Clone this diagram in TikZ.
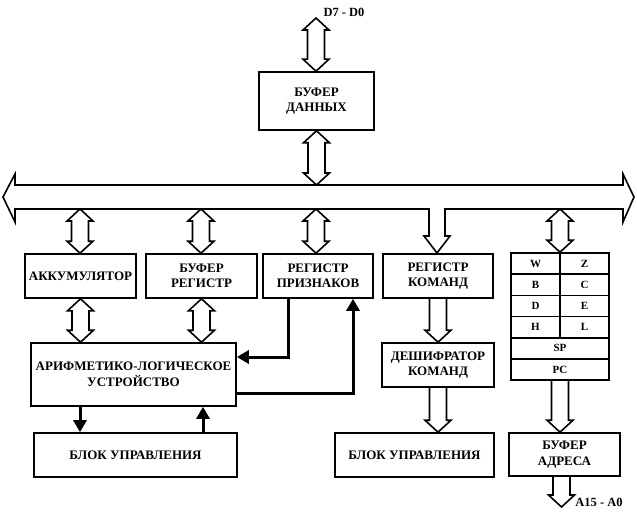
\documentclass[tikz,border=0pt]{standalone}
\usepackage{fontspec}
\setmainfont{Liberation Serif}
\usetikzlibrary{arrows.meta, positioning, calc}
\tikzset{
  block/.style={draw=black, line width=1.6pt, align=center, inner sep=2pt,
                font=\fontsize{13}{15.5}\selectfont\bfseries},
  cell/.style={draw=black, line width=1.6pt, minimum height=21.17pt,
               inner sep=0pt, font=\fontsize{11}{12}\selectfont\bfseries},
  fat/.style={draw=black, line width=1.6pt, line join=miter},
  ctrl/.style={line width=3pt, -{Triangle[length=12pt, width=13pt]}},
  buslabel/.style={font=\fontsize{12.5}{14}\selectfont\bfseries},
}
% wide hollow arrows (vertical), x taken from the first point
\newcommand\fatboth[2]{%
  \draw[fat] let \p1=#1, \p2=#2 in
    (\x1,\y1) -- (\x1+13pt,\y1-12pt) -- (\x1+8.5pt,\y1-12pt)
    -- (\x1+8.5pt,\y2+12pt) -- (\x1+13pt,\y2+12pt) -- (\x1,\y2)
    -- (\x1-13pt,\y2+12pt) -- (\x1-8.5pt,\y2+12pt)
    -- (\x1-8.5pt,\y1-12pt) -- (\x1-13pt,\y1-12pt) -- cycle;}
\newcommand\fatdown[2]{%
  \draw[fat] let \p1=#1, \p2=#2 in
    (\x1-8.5pt,\y1) -- (\x1-8.5pt,\y2+12pt) -- (\x1-13pt,\y2+12pt)
    -- (\x1,\y2) -- (\x1+13pt,\y2+12pt) -- (\x1+8.5pt,\y2+12pt)
    -- (\x1+8.5pt,\y1);}

\begin{document}
\begin{tikzpicture}[x=1pt, y=-1pt]
    \useasboundingbox (0,0) rectangle (637,516);

    %% data buffer and external data lines
    \node[buslabel] (dlabel) at (344,12) {D7 - D0};
    \coordinate (dtop) at (316,18);
    \node[block, minimum width=115pt, minimum height=58pt] (databuf) at (316.5,101) {БУФЕР\\ДАННЫХ};

    %% internal bus
    \coordinate (busT) at (316,185);
    \coordinate (cmdin) at (437,253);
    \draw[fat] (3,197) -- (15,174) -- (15,185) -- (623,185) -- (623,174)
      -- (634,197) -- (623,222) -- (623,209) -- (445,209) -- (445,236)
      -- (450,236) -- (cmdin) -- (424,236) -- (429,236) -- (429,209)
      -- (15,209) -- (15,222) -- cycle;
    \coordinate (busA) at (80,209);
    \coordinate (busB) at (201,209);
    \coordinate (busC) at (316,209);
    \coordinate (busD) at (560,209);

    %% first row of registers
    \node[block, minimum width=111pt, minimum height=44pt] (accum)  at (80.5,276) {АККУМУЛЯТОР};
    \node[block, minimum width=111pt, minimum height=44pt] (bufreg) at (201.5,276) {БУФЕР\\РЕГИСТР};
    \node[block, minimum width=110pt, minimum height=44pt] (flagreg) at (318,276) {РЕГИСТР\\ПРИЗНАКОВ};
    \node[block, minimum width=110pt, minimum height=44pt] (cmdreg) at (438,276) {РЕГИСТР\\КОМАНД};

    %% register file
    \foreach \l/\r [count=\i from 0] in {W/Z,B/C,D/E,H/L}{
      \node[cell, minimum width=49pt] (c\l) at (535.5,{263.6+21.17*\i}) {\l};
      \node[cell, minimum width=49pt] (c\r) at (584.5,{263.6+21.17*\i}) {\r};
    }
    \node[cell, minimum width=98pt] (cSP) at (560,348.3) {SP};
    \node[cell, minimum width=98pt] (cPC) at (560,369.5) {PC};

    %% ALU, decoder, control units, address buffer
    \node[block, minimum width=205pt, minimum height=63pt] (alu) at (133.5,374.5) {АРИФМЕТИКО-ЛОГИЧЕСКОЕ\\УСТРОЙСТВО};
    \node[block, minimum width=112pt, minimum height=44pt] (decoder) at (438,365) {ДЕШИФРАТОР\\КОМАНД};
    \node[block, minimum width=203pt, minimum height=44pt] (ctrlA) at (135.5,455) {БЛОК УПРАВЛЕНИЯ};
    \node[block, minimum width=159pt, minimum height=44pt] (ctrlB) at (414.5,455) {БЛОК УПРАВЛЕНИЯ};
    \node[block, minimum width=111pt, minimum height=43pt] (addrbuf) at (564.5,454.5) {БУФЕР\\АДРЕСА};
    \coordinate (aout) at (561,507);
    \node[buslabel] (alabel) at (599,502) {A15 - A0};

    %% wide arrows
    \fatboth{(dtop)}{(databuf.north)}
    \fatboth{(databuf.south)}{(busT)}
    \fatboth{(busA)}{(accum.north)}
    \fatboth{(busB)}{(bufreg.north)}
    \fatboth{(busC)}{(flagreg.north)}
    \fatboth{(busD)}{(cW.north)}
    \fatboth{(accum.south)}{(alu.north)}
    \fatboth{(bufreg.south)}{(alu.north)}
    \fatdown{(cmdreg.south)}{(decoder.north)}
    \fatdown{(decoder.south)}{(ctrlB.north)}
    \fatdown{(cPC.south)}{(addrbuf.north)}
    \fatdown{([xshift=-3pt]addrbuf.south)}{(aout)}

    %% control lines
    \coordinate (flagout) at ([xshift=-30pt]flagreg.south);
    \coordinate (flagin)  at ([xshift=35pt]flagreg.south);
    \coordinate (aluout)  at ([xshift=-53.5pt]alu.south);
    \coordinate (ctrlout) at ([xshift=67.5pt]ctrlA.north);
    \draw[ctrl] (flagout) |- ([yshift=17.5pt]alu.east);
    \draw[ctrl] ([yshift=-18.5pt]alu.east) -| (flagin);
    \draw[ctrl] (aluout) -- (aluout |- ctrlA.north);
    \draw[ctrl] (ctrlout) -- (ctrlout |- alu.south);
\end{tikzpicture}
\end{document}
